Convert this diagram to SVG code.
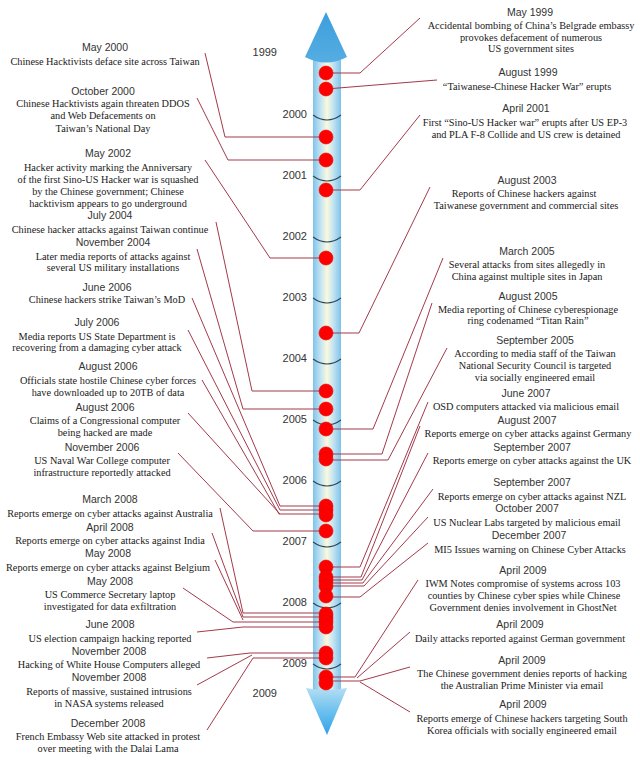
<svg xmlns="http://www.w3.org/2000/svg" width="640" height="761" viewBox="0 0 640 761">
<defs>
<linearGradient id="shaft" x1="0" y1="0" x2="1" y2="0">
<stop offset="0" stop-color="#7fc3ea"/>
<stop offset="0.28" stop-color="#c4e4f1"/>
<stop offset="0.5" stop-color="#fbf9de"/>
<stop offset="0.72" stop-color="#c4e4f1"/>
<stop offset="1" stop-color="#7fc3ea"/>
</linearGradient>
<linearGradient id="headDown" x1="0" y1="0" x2="0" y2="1">
<stop offset="0" stop-color="#b4def3"/>
<stop offset="0.5" stop-color="#6cc0ee"/>
<stop offset="1" stop-color="#2fa2e6"/>
</linearGradient>
<linearGradient id="headUp" x1="0" y1="0" x2="0" y2="1">
<stop offset="0" stop-color="#3c9fdc"/>
<stop offset="1" stop-color="#55ade2"/>
</linearGradient>
</defs>
<style>
.d{font-family:"Liberation Sans",Arial,sans-serif;font-size:10.5px;fill:#333;text-anchor:middle}
.t{font-family:"Liberation Serif","Times New Roman",serif;font-size:10.3px;fill:#1a1a1a;text-anchor:middle}
.y{font-family:"Liberation Sans",Arial,sans-serif;font-size:11px;fill:#333;text-anchor:end}
.tick{fill:none;stroke:#2d4655;stroke-width:1.1}
.c{fill:none;stroke:#a33a4a;stroke-width:1}
.dot{fill:#ff0000;stroke:#e80000;stroke-width:0.6}
</style>
<rect width="640" height="761" fill="#ffffff"/>

<g id="timeline">
<rect x="313" y="56" width="28" height="634" fill="url(#shaft)"/>
<path d="M326,12 L305,57 Q326,68 347,57 Z" fill="url(#headUp)"/>
<path d="M306,688 Q326,692 347,688 L327,735 Z" fill="url(#headDown)"/>
<g id="years">
<text class="y" x="277" y="56">1999</text>
<text class="y" x="307" y="118">2000</text>
<text class="y" x="307" y="179">2001</text>
<text class="y" x="307" y="240">2002</text>
<text class="y" x="307" y="301">2003</text>
<text class="y" x="307" y="362">2004</text>
<text class="y" x="307" y="423">2005</text>
<text class="y" x="307" y="484">2006</text>
<text class="y" x="307" y="545">2007</text>
<text class="y" x="307" y="606">2008</text>
<text class="y" x="307" y="667">2009</text>
<text class="y" x="277" y="697">2009</text>
<path class="tick" d="M313,115 Q327,125 341,115"/>
<path class="tick" d="M313,176 Q327,186 341,176"/>
<path class="tick" d="M313,237 Q327,247 341,237"/>
<path class="tick" d="M313,298 Q327,308 341,298"/>
<path class="tick" d="M313,359 Q327,369 341,359"/>
<path class="tick" d="M313,420 Q327,430 341,420"/>
<path class="tick" d="M313,481 Q327,491 341,481"/>
<path class="tick" d="M313,542 Q327,552 341,542"/>
<path class="tick" d="M313,603 Q327,613 341,603"/>
<path class="tick" d="M313,664 Q327,674 341,664"/>
</g>
</g>

<g id="connectors">
<polyline class="c" points="205,53 225,137 326,137"/>
<polyline class="c" points="197,98 228,160 326,160"/>
<polyline class="c" points="205,160 270,258 326,258"/>
<polyline class="c" points="216,222 252,391 326,391"/>
<polyline class="c" points="197,249 243,409 326,409"/>
<polyline class="c" points="192,298 280,506 326,506"/>
<polyline class="c" points="188,330 280,510 326,510"/>
<polyline class="c" points="202,380 279,514 326,514"/>
<polyline class="c" points="188,413 280,514"/>
<polyline class="c" points="178,453 253,531 326,531"/>
<polyline class="c" points="220,508 243,613 326,613"/>
<polyline class="c" points="212,533 243,617 326,617"/>
<polyline class="c" points="215,560 243,620"/>
<polyline class="c" points="183,588 233,622 326,622"/>
<polyline class="c" points="197,632 243,627 326,627"/>
<polyline class="c" points="207,658 250,653 326,653"/>
<polyline class="c" points="197,685 252,655"/>
<polyline class="c" points="207,730 253,658 326,658"/>
<polyline class="c" points="326,73 360,73 420,18"/>
<polyline class="c" points="326,89 437,80"/>
<polyline class="c" points="326,190 360,190 420,115"/>
<polyline class="c" points="326,333 359,333 430,187"/>
<polyline class="c" points="326,429 373,429 443,258"/>
<polyline class="c" points="326,454 382,454 432,303"/>
<polyline class="c" points="326,460 388,460 447,348"/>
<polyline class="c" points="326,567 360,567 428,402"/>
<polyline class="c" points="326,577 361,577 420,426"/>
<polyline class="c" points="326,580 362,580 428,453"/>
<polyline class="c" points="326,583 363,583 433,489"/>
<polyline class="c" points="326,586 364,586 428,517"/>
<polyline class="c" points="326,597 360,597 428,543"/>
<polyline class="c" points="326,677 355,677 418,580"/>
<polyline class="c" points="357,678 410,632"/>
<polyline class="c" points="326,681 360,681 410,667"/>
<polyline class="c" points="360,682 410,712"/>
</g>

<g id="dots">
<circle class="dot" cx="326" cy="73" r="7"/>
<circle class="dot" cx="326" cy="89" r="7"/>
<circle class="dot" cx="326" cy="137" r="7"/>
<circle class="dot" cx="326" cy="160" r="7"/>
<circle class="dot" cx="326" cy="190" r="7"/>
<circle class="dot" cx="326" cy="258" r="7"/>
<circle class="dot" cx="326" cy="333" r="7"/>
<circle class="dot" cx="326" cy="391" r="7"/>
<circle class="dot" cx="326" cy="409" r="7"/>
<circle class="dot" cx="326" cy="429" r="7"/>
<circle class="dot" cx="326" cy="454" r="7"/>
<circle class="dot" cx="326" cy="459" r="7"/>
<circle class="dot" cx="326" cy="506" r="7"/>
<circle class="dot" cx="326" cy="510" r="7"/>
<circle class="dot" cx="326" cy="515" r="7"/>
<circle class="dot" cx="326" cy="531" r="7"/>
<circle class="dot" cx="326" cy="567" r="7"/>
<circle class="dot" cx="326" cy="577" r="7"/>
<circle class="dot" cx="326" cy="581" r="7"/>
<circle class="dot" cx="326" cy="586" r="7"/>
<circle class="dot" cx="326" cy="596" r="7"/>
<circle class="dot" cx="326" cy="614" r="7"/>
<circle class="dot" cx="326" cy="618" r="7"/>
<circle class="dot" cx="326" cy="622" r="7"/>
<circle class="dot" cx="326" cy="627" r="7"/>
<circle class="dot" cx="326" cy="653" r="7"/>
<circle class="dot" cx="326" cy="658" r="7"/>
<circle class="dot" cx="326" cy="677" r="7"/>
<circle class="dot" cx="326" cy="683" r="7"/>
</g>

<g id="ev-may2000"><text class="d" x="105" y="50.5">May 2000</text><text class="t"><tspan x="105" y="64.5">Chinese Hacktivists deface site across Taiwan</tspan></text></g>
<g id="ev-oct2000"><text class="d" x="103" y="94.5">October 2000</text><text class="t"><tspan x="103" y="106.5">Chinese Hacktivists again threaten DDOS</tspan><tspan x="103" y="119">and Web Defacements on</tspan><tspan x="103" y="131.5">Taiwan’s National Day</tspan></text></g>
<g id="ev-may2002"><text class="d" x="108" y="156.5">May 2002</text><text class="t"><tspan x="108" y="170.5">Hacker activity marking the Anniversary</tspan><tspan x="108" y="182.5">of the first Sino-US Hacker war is squashed</tspan><tspan x="108" y="194.5">by the Chinese government; Chinese</tspan><tspan x="108" y="206.5">hacktivism appears to go underground</tspan></text></g>
<g id="ev-jul2004"><text class="d" x="110" y="218.5">July 2004</text><text class="t"><tspan x="110" y="232.5">Chinese hacker attacks against Taiwan continue</tspan></text></g>
<g id="ev-nov2004"><text class="d" x="113" y="245.5">November 2004</text><text class="t"><tspan x="113" y="259.5">Later media reports of attacks against</tspan><tspan x="113" y="270.5">several US military installations</tspan></text></g>
<g id="ev-jun2006"><text class="d" x="107" y="290.5">June 2006</text><text class="t"><tspan x="107" y="302.5">Chinese hackers strike Taiwan’s MoD</tspan></text></g>
<g id="ev-jul2006"><text class="d" x="97" y="325.5">July 2006</text><text class="t"><tspan x="97" y="339.5">Media reports US State Department is</tspan><tspan x="97" y="350.5">recovering from a damaging cyber attack</tspan></text></g>
<g id="ev-aug2006a"><text class="d" x="108" y="369.5">August 2006</text><text class="t"><tspan x="108" y="383.5">Officials state hostile Chinese cyber forces</tspan><tspan x="108" y="395.5">have downloaded up to 20TB of data</tspan></text></g>
<g id="ev-aug2006b"><text class="d" x="105" y="410.5">August 2006</text><text class="t"><tspan x="105" y="423.5">Claims of a Congressional computer</tspan><tspan x="105" y="435.5">being hacked are made</tspan></text></g>
<g id="ev-nov2006"><text class="d" x="102" y="450.5">November 2006</text><text class="t"><tspan x="102" y="463.5">US Naval War College computer</tspan><tspan x="102" y="475.5">infrastructure reportedly attacked</tspan></text></g>
<g id="ev-mar2008"><text class="d" x="110" y="502.5">March 2008</text><text class="t"><tspan x="110" y="516.5">Reports emerge on cyber attacks against Australia</tspan></text></g>
<g id="ev-apr2008"><text class="d" x="110" y="530.5">April 2008</text><text class="t"><tspan x="110" y="543.5">Reports emerge on cyber attacks against India</tspan></text></g>
<g id="ev-may2008a"><text class="d" x="108" y="556.5">May 2008</text><text class="t"><tspan x="108" y="570.5">Reports emerge on cyber attacks against Belgium</tspan></text></g>
<g id="ev-may2008b"><text class="d" x="110" y="584.5">May 2008</text><text class="t"><tspan x="110" y="597.5">US Commerce Secretary laptop</tspan><tspan x="110" y="609.5">investigated for data exfiltration</tspan></text></g>
<g id="ev-jun2008"><text class="d" x="110" y="627.5">June 2008</text><text class="t"><tspan x="110" y="641.5">US election campaign hacking reported</tspan></text></g>
<g id="ev-nov2008a"><text class="d" x="109" y="654.5">November 2008</text><text class="t"><tspan x="109" y="667.5">Hacking of White House Computers alleged</tspan></text></g>
<g id="ev-nov2008b"><text class="d" x="109" y="680.5">November 2008</text><text class="t"><tspan x="109" y="694.5">Reports of massive, sustained intrusions</tspan><tspan x="109" y="706.5">in NASA systems released</tspan></text></g>
<g id="ev-dec2008"><text class="d" x="108" y="726.5">December 2008</text><text class="t"><tspan x="108" y="739.5">French Embassy Web site attacked in protest</tspan><tspan x="108" y="751.5">over meeting with the Dalai Lama</tspan></text></g>

<g id="ev-may1999"><text class="d" x="530" y="15.5">May 1999</text><text class="t"><tspan x="531" y="28.5">Accidental bombing of China’s Belgrade embassy</tspan><tspan x="531" y="40.5">provokes defacement of numerous</tspan><tspan x="531" y="51.5">US government sites</tspan></text></g>
<g id="ev-aug1999"><text class="d" x="528" y="75.5">August 1999</text><text class="t"><tspan x="527" y="89.5">“Taiwanese-Chinese Hacker War” erupts</tspan></text></g>
<g id="ev-apr2001"><text class="d" x="526" y="111.5">April 2001</text><text class="t"><tspan x="525" y="125.5">First “Sino-US Hacker war” erupts after US EP-3</tspan><tspan x="526" y="137.5">and PLA F-8 Collide and US crew is detained</tspan></text></g>
<g id="ev-aug2003"><text class="d" x="527" y="183.5">August 2003</text><text class="t"><tspan x="524" y="196.5">Reports of Chinese hackers against</tspan><tspan x="526" y="208.5">Taiwanese government and commercial sites</tspan></text></g>
<g id="ev-mar2005"><text class="d" x="527" y="254.5">March 2005</text><text class="t"><tspan x="527" y="267.5">Several attacks from sites allegedly in</tspan><tspan x="527" y="279.5">China against multiple sites in Japan</tspan></text></g>
<g id="ev-aug2005"><text class="d" x="528" y="299.5">August 2005</text><text class="t"><tspan x="528" y="312.5">Media reporting of Chinese cyberespionage</tspan><tspan x="528" y="323.5">ring codenamed “Titan Rain”</tspan></text></g>
<g id="ev-sep2005"><text class="d" x="535" y="343.5">September 2005</text><text class="t"><tspan x="535" y="356.5">According to media staff of the Taiwan</tspan><tspan x="535" y="368.5">National Security Council is targeted</tspan><tspan x="535" y="380.5">via socially engineered email</tspan></text></g>
<g id="ev-jun2007"><text class="d" x="526" y="396.5">June 2007</text><text class="t"><tspan x="526" y="409.5">OSD computers attacked via malicious email</tspan></text></g>
<g id="ev-aug2007"><text class="d" x="527" y="423.5">August 2007</text><text class="t"><tspan x="528" y="436.5">Reports emerge on cyber attacks against Germany</tspan></text></g>
<g id="ev-sep2007a"><text class="d" x="532" y="450.5">September 2007</text><text class="t"><tspan x="532" y="463.5">Reports emerge on cyber attacks against the UK</tspan></text></g>
<g id="ev-sep2007b"><text class="d" x="532" y="485.5">September 2007</text><text class="t"><tspan x="532" y="499.5">Reports emerge on cyber attacks against NZL</tspan></text></g>
<g id="ev-oct2007"><text class="d" x="527" y="511.5">October 2007</text><text class="t"><tspan x="527" y="525.5">US Nuclear Labs targeted by malicious email</tspan></text></g>
<g id="ev-dec2007"><text class="d" x="529" y="538.5">December 2007</text><text class="t"><tspan x="530" y="552.5">MI5 Issues warning on Chinese Cyber Attacks</tspan></text></g>
<g id="ev-apr2009a"><text class="d" x="523" y="573.5">April 2009</text><text class="t"><tspan x="523" y="586.5">IWM Notes compromise of systems across 103</tspan><tspan x="524" y="598.5">counties by Chinese cyber spies while Chinese</tspan><tspan x="523" y="610.5">Government denies involvement in GhostNet</tspan></text></g>
<g id="ev-apr2009b"><text class="d" x="520" y="627.5">April 2009</text><text class="t"><tspan x="520" y="641.5">Daily attacks reported against German government</tspan></text></g>
<g id="ev-apr2009c"><text class="d" x="522" y="663.5">April 2009</text><text class="t"><tspan x="522" y="676.5">The Chinese government denies reports of hacking</tspan><tspan x="522" y="688.5">the Australian Prime Minister via email</tspan></text></g>
<g id="ev-apr2009d"><text class="d" x="523" y="707.5">April 2009</text><text class="t"><tspan x="522" y="721.5">Reports emerge of Chinese hackers targeting South</tspan><tspan x="522" y="733.5">Korea officials with socially engineered email</tspan></text></g>
</svg>
